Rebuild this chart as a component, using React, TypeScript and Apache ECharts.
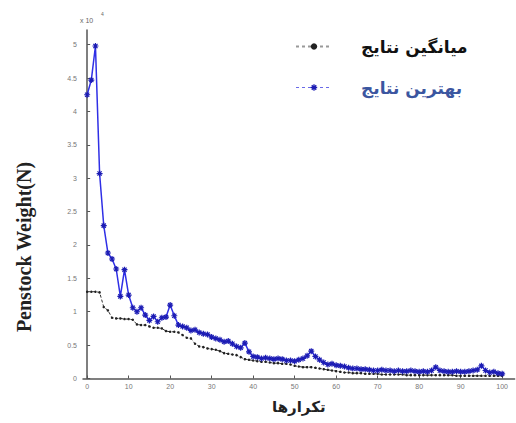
import React, { useEffect, useRef } from "react";
import * as echarts from "echarts";

// Values in units of 10^4 N, iterations 0..100
const bestValues = [
  4.25, 4.47, 4.98, 3.07, 2.29, 1.88, 1.79, 1.64, 1.23, 1.63,
  1.25, 1.06, 1.0, 1.06, 0.95, 0.87, 0.93, 0.85, 0.91, 0.92,
  1.1, 0.94, 0.8, 0.78, 0.76, 0.72, 0.73, 0.69, 0.67, 0.66,
  0.62, 0.6, 0.58, 0.55, 0.56, 0.52, 0.48, 0.46, 0.53, 0.4,
  0.33, 0.32, 0.3, 0.31, 0.3, 0.29, 0.3, 0.29, 0.27, 0.27,
  0.26, 0.28, 0.3, 0.34, 0.41, 0.33, 0.28, 0.24, 0.21, 0.22,
  0.2, 0.19, 0.18, 0.16, 0.15, 0.15, 0.14, 0.14, 0.13, 0.12,
  0.12, 0.13, 0.12, 0.12, 0.11, 0.12, 0.11, 0.11, 0.12, 0.11,
  0.1, 0.11, 0.1, 0.12, 0.17, 0.12, 0.11, 0.1, 0.1, 0.11,
  0.1, 0.1, 0.11, 0.12, 0.13, 0.19, 0.12, 0.09, 0.1, 0.08,
  0.07,
];

const meanValues = [
  1.3, 1.3, 1.3, 1.29, 1.07, 1.02, 0.91, 0.9, 0.9, 0.89,
  0.89, 0.88, 0.81, 0.8, 0.8, 0.78, 0.76, 0.76, 0.75, 0.71,
  0.7, 0.7, 0.69, 0.65, 0.61, 0.6, 0.52, 0.48, 0.47, 0.45,
  0.44, 0.43, 0.41, 0.38, 0.37, 0.36, 0.35, 0.32, 0.29, 0.28,
  0.27, 0.26, 0.25, 0.25, 0.24, 0.23, 0.23, 0.22, 0.22, 0.21,
  0.19, 0.18, 0.17, 0.17, 0.17, 0.16, 0.15, 0.14, 0.13, 0.12,
  0.11, 0.1, 0.09, 0.09, 0.08, 0.08, 0.08, 0.07, 0.07, 0.07,
  0.07, 0.06, 0.06, 0.06, 0.06, 0.06, 0.06, 0.05, 0.05, 0.05,
  0.05, 0.05, 0.05, 0.05, 0.05, 0.05, 0.05, 0.05, 0.05, 0.04,
  0.04, 0.04, 0.04, 0.04, 0.04, 0.04, 0.04, 0.04, 0.04, 0.04,
  0.04,
];

const xTicks = [0, 10, 20, 30, 40, 50, 60, 70, 80, 90, 100];
const yTicks = [0, 0.5, 1, 1.5, 2, 2.5, 3, 3.5, 4, 4.5, 5];

const meanName = "میانگین نتایج";
const bestName = "بهترین نتایج";
const xName = "تکرارها";
const yName = "Penstock Weight(N)";

const starPath =
  "path://M8 0H12V20H8Z M0 8H20V12H0Z M1.6 4.4L4.4 1.6L18.4 15.6L15.6 18.4Z M15.6 1.6L18.4 4.4L4.4 18.4L1.6 15.6Z";

export default function App() {
  const ref = useRef<HTMLDivElement>(null);
  useEffect(() => {
    if (!ref.current) return;
    const chart = echarts.init(ref.current, undefined, { renderer: "svg" });
    const axisColor = "#555";
    chart.setOption({
      animation: false,
      backgroundColor: "#fff",
      grid: { left: 83, right: 1.4, top: 30, bottom: 44.5 },
      legend: {
        orient: "vertical",
        left: 290,
        top: 33,
        itemWidth: 36,
        itemHeight: 8,
        itemGap: 24,
        textStyle: {
          fontSize: 17,
          fontWeight: "bold",
          fontFamily: "DejaVu Sans, sans-serif",
          padding: [0, 0, 0, 24],
        },
        data: [
          {
            name: meanName,
            textStyle: { color: "#111" },
            lineStyle: { color: "#999", type: [3, 3] },
          },
          {
            name: bestName,
            textStyle: { color: "#3b56a0" },
            lineStyle: { color: "#6a6ae8", type: [3, 3], width: 1 },
          },
        ],
      },
      xAxis: {
        type: "value",
        min: -1,
        max: 103,
        name: xName,
        nameLocation: "middle",
        nameGap: 21,
        nameTextStyle: {
          fontSize: 15,
          fontWeight: "bold",
          color: "#222",
          fontFamily: "DejaVu Sans, sans-serif",
        },
        axisLine: { show: true, lineStyle: { color: axisColor, width: 1.5 } },
        axisTick: {
          show: true,
          inside: true,
          length: 3,
          customValues: xTicks,
          lineStyle: { color: axisColor },
        },
        axisLabel: {
          customValues: xTicks,
          fontSize: 7,
          color: "#777",
          margin: 4,
        },
        splitLine: { show: false },
      },
      yAxis: {
        type: "value",
        min: 0,
        max: 5.22,
        axisLine: { show: true, lineStyle: { color: axisColor, width: 1.5 } },
        axisTick: {
          show: true,
          inside: true,
          length: 3,
          customValues: yTicks,
          lineStyle: { color: axisColor },
        },
        axisLabel: {
          customValues: yTicks,
          fontSize: 7,
          color: "#777",
          margin: 6,
          formatter: (v: number) => String(v),
        },
        splitLine: { show: false },
      },
      graphic: [
        {
          type: "text",
          x: 24,
          y: 247,
          rotation: Math.PI / 2,
          style: {
            text: yName,
            fontSize: 20,
            fontWeight: "bold",
            fontFamily: "Liberation Serif, serif",
            fill: "#222",
            textAlign: "center",
            textVerticalAlign: "middle",
          },
        },
        {
          type: "text",
          x: 80,
          y: 20,
          style: {
            text: "x 10",
            fontSize: 7,
            fill: "#666",
            textVerticalAlign: "middle",
          },
        },
        {
          type: "text",
          x: 101,
          y: 14,
          style: {
            text: "4",
            fontSize: 5,
            fill: "#666",
            textVerticalAlign: "middle",
          },
        },
      ],
      series: [
        {
          name: meanName,
          type: "line",
          data: meanValues.map((v, i) => [i, v]),
          symbol: "circle",
          symbolSize: 2.5,
          itemStyle: { color: "#222" },
          lineStyle: { color: "#333", width: 1, type: [3, 2] },
          z: 2,
        },
        {
          name: bestName,
          type: "line",
          data: bestValues.map((v, i) => [i, v]),
          symbol: starPath,
          symbolSize: 6,
          itemStyle: { color: "#1c1cb4" },
          lineStyle: { color: "#2f2fe6", width: 1.5 },
          z: 3,
        },
      ],
    });
    return () => chart.dispose();
  }, []);
  return (
    <div
      ref={ref}
      style={{ position: "fixed", left: 0, top: 0, width: 516, height: 423 }}
    />
  );
}
